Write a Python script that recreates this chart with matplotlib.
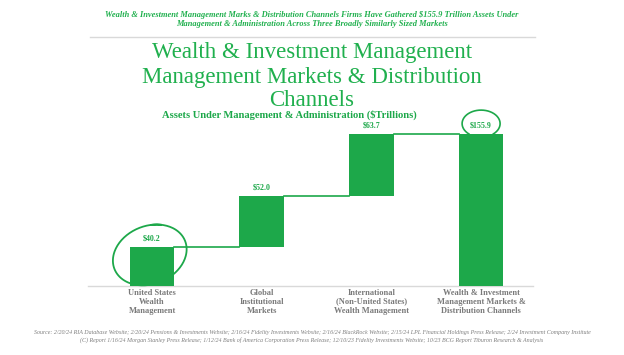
import matplotlib
matplotlib.use("Agg")
import matplotlib.pyplot as plt
import numpy as np

categories = ["United States\nWealth\nManagement",
              "Global\nInstitutional\nMarkets",
              "International\n(Non-United States)\nWealth Management",
              "Wealth & Investment\nManagement Markets &\nDistribution Channels"]
increments = [40.2, 52.0, 63.7]
total = 155.9
value_labels = ["$40.2", "$52.0", "$63.7", "$155.9"]

GREEN = "#1DA84A"
TGREEN = "#20B04E"
GRAY = "#7a7a7a"
SERIF = "Liberation Serif"

fig = plt.figure(figsize=(6.24, 3.55), dpi=100)
W, H = 624, 355

def fy(py):
    return 1 - py / H

# header texts
fig.text(0.5, fy(16.7), "Wealth & Investment Management Marks & Distribution Channels Firms Have Gathered $155.9 Trillion Assets Under",
         ha="center", va="baseline", family=SERIF, style="italic", weight="bold", fontsize=6.0, color=TGREEN)
fig.text(0.5, fy(26), "Management & Administration Across Three Broadly Similarly Sized Markets",
         ha="center", va="baseline", family=SERIF, style="italic", weight="bold", fontsize=6.0, color=TGREEN)
fig.add_artist(plt.Line2D([90 / W, 535 / W], [fy(36.7), fy(36.7)], color="#d9d9d9", lw=1.0))

title_lines = ["Wealth & Investment Management", "Management Markets & Distribution", "Channels"]
for line, b in zip(title_lines, [58.3, 83.3, 106.0]):
    fig.text(0.5, fy(b), line, ha="center", va="baseline", family=SERIF, fontsize=16.5, color=TGREEN)
fig.text(0.464, fy(117.3), "Assets Under Management & Administration ($Trillions)",
         ha="center", va="baseline", family=SERIF, weight="bold", fontsize=7.6, color=GREEN)

fig.text(0.5, fy(333.7), "Source: 2/20/24 RIA Database Website; 2/20/24 Pensions & Investments Website; 2/16/24 Fidelity Investments Website; 2/16/24 BlackRock Website; 2/15/24 LPL Financial Holdings Press Release; 2/24 Investment Company Institute",
         ha="center", va="baseline", family=SERIF, style="italic", fontsize=4.3, color="#808080")
fig.text(0.5, fy(341.3), "(C) Report 1/16/24 Morgan Stanley Press Release; 1/12/24 Bank of America Corporation Press Release; 12/10/23 Fidelity Investments Website; 10/23 BCG Report Tiburon Research & Analysis",
         ha="center", va="baseline", family=SERIF, style="italic", fontsize=4.3, color="#808080")

# axes
ax_left, ax_right = 88, 533
base_px = 286.0
px_per_unit = 0.973
ymax = 170
xlim = (-0.583, 3.473)
px_per_x = (ax_right - ax_left) / (xlim[1] - xlim[0])
ax = fig.add_axes([ax_left / W, (H - base_px) / H, (ax_right - ax_left) / W, ymax * px_per_unit / H])
ax.set_xlim(*xlim)
ax.set_ylim(0, ymax)
for s in ["top", "right", "left"]:
    ax.spines[s].set_visible(False)
ax.spines["bottom"].set_color("#d9d9d9")
ax.spines["bottom"].set_linewidth(1.0)
ax.set_yticks([])

x = np.arange(len(categories))
bottoms = list(np.concatenate([[0], np.cumsum(increments)[:-1]])) + [0]
heights = increments + [total]
bw = 0.405
ax.bar(x, heights, bottom=bottoms, width=bw, color=GREEN, zorder=3)

tops = [b + h for b, h in zip(bottoms, heights)]
# connectors
for i in range(len(categories) - 1):
    ax.plot([x[i] + bw / 2, x[i + 1] - bw / 2], [tops[i], tops[i]], color=GREEN, lw=1.2, zorder=2)

for xi, t, lab in zip(x, tops, value_labels):
    ax.annotate(lab, (xi, t), xytext=(0, 3.5), textcoords="offset points", ha="center", va="bottom",
                family=SERIF, weight="bold", fontsize=5.7, color=GREEN)

ax.set_xticks(x)
ax.set_xticklabels(categories, family=SERIF, weight="bold", fontsize=6.0, color=GRAY, linespacing=1.15)
ax.tick_params(axis="x", length=0, pad=2)

# hand-drawn circles (shapes defined in pixel space, converted to data units)
def pixel_ellipse(cx, cy, a_px, b_px, tilt_deg, t0, t1):
    t = np.radians(np.linspace(t0, t1, 200))
    phi = np.radians(tilt_deg)
    dx = a_px * np.cos(t) * np.cos(phi) - b_px * np.sin(t) * np.sin(phi)
    dy = a_px * np.cos(t) * np.sin(phi) + b_px * np.sin(t) * np.cos(phi)
    return cx + dx / px_per_x, cy + dy / px_per_unit

ex, ey = pixel_ellipse(x[0] - 0.02, 31.9, 38, 29, 22, 55, 430)
ax.plot(ex, ey, color=GREEN, lw=1.3, zorder=4, clip_on=False)
ex, ey = pixel_ellipse(x[3], tops[3] + 11.0, 19, 13.5, 0, -50, 230)
ax.plot(ex, ey, color=GREEN, lw=1.2, zorder=4, clip_on=False)

fig.savefig("out.png", dpi=100)
